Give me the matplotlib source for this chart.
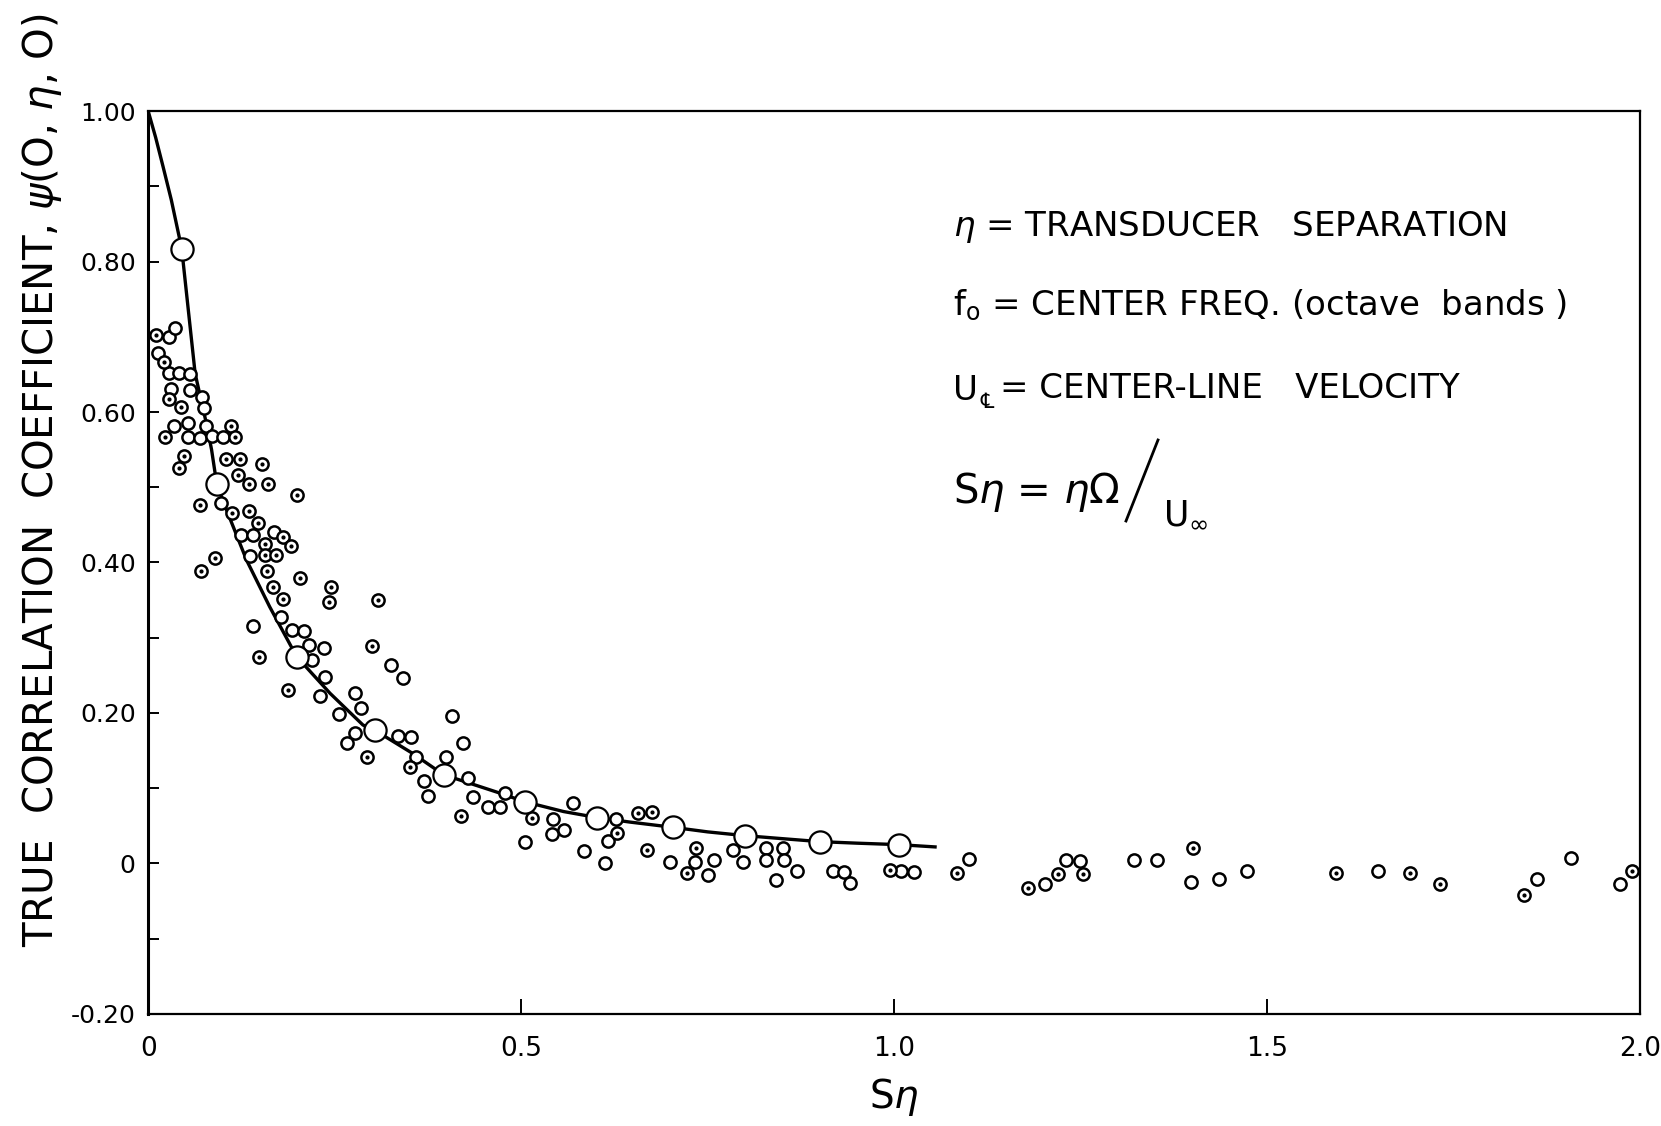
import matplotlib.pyplot as plt
from matplotlib.lines import Line2D

# faired correlation curve through the octave-band averages
fit_s = [0.000, 0.010, 0.020, 0.031, 0.045, 0.063, 0.078, 0.085, 0.092, 0.105,
         0.132, 0.163, 0.199, 0.244, 0.288, 0.304, 0.355, 0.396, 0.467, 0.505,
         0.557, 0.602, 0.646, 0.704, 0.750, 0.800, 0.850, 0.901, 0.950, 1.007, 1.055]
fit_r = [1.000, 0.965, 0.926, 0.882, 0.817, 0.651, 0.585, 0.550, 0.504, 0.470,
         0.403, 0.341, 0.275, 0.226, 0.184, 0.177, 0.146, 0.118, 0.095, 0.082,
         0.069, 0.061, 0.055, 0.048, 0.042, 0.037, 0.033, 0.029, 0.027, 0.025, 0.022]

# large open circles on the curve
mark_s = [0.045, 0.092, 0.199, 0.304, 0.396, 0.505, 0.602, 0.704, 0.800, 0.901, 1.007]
mark_r = [0.817, 0.504, 0.275, 0.177, 0.118, 0.082, 0.061, 0.048, 0.037, 0.029, 0.025]

# measured points, plain open circles
open_s = [0.028, 0.036, 0.013, 0.028, 0.041, 0.056, 0.031, 0.056, 0.072, 0.075,
          0.035, 0.054, 0.077, 0.053, 0.069, 0.086, 0.101, 0.097,
          0.124, 0.141, 0.169, 0.136, 0.178, 0.141, 0.193, 0.209, 0.215, 0.236,
          0.220, 0.237, 0.230,
          0.326, 0.341, 0.277,
          0.286, 0.256, 0.408, 0.277, 0.267, 0.335, 0.352, 0.422, 0.359, 0.399,
          0.370, 0.375, 0.429, 0.436, 0.478, 0.455, 0.472, 0.505,
          0.569, 0.543, 0.557, 0.541, 0.627, 0.617, 0.584, 0.612, 0.700, 0.733,
          0.758, 0.751, 0.784, 0.798, 0.828, 0.828, 0.851, 0.852, 0.842, 0.870,
          0.918, 0.933, 0.941, 1.009, 1.027,
          1.101, 1.203, 1.230, 1.249, 1.322, 1.352, 1.398, 1.436, 1.473, 1.649,
          1.862, 1.908, 1.973]
open_r = [0.700, 0.711, 0.679, 0.652, 0.652, 0.651, 0.630, 0.629, 0.620, 0.605,
          0.581, 0.585, 0.581, 0.567, 0.566, 0.568, 0.567, 0.479,
          0.437, 0.437, 0.441, 0.408, 0.328, 0.315, 0.310, 0.309, 0.290, 0.286,
          0.270, 0.248, 0.222,
          0.264, 0.247, 0.226,
          0.206, 0.199, 0.196, 0.173, 0.160, 0.169, 0.168, 0.160, 0.141, 0.141,
          0.109, 0.090, 0.113, 0.089, 0.093, 0.075, 0.075, 0.029,
          0.080, 0.059, 0.045, 0.039, 0.059, 0.030, 0.016, 0.001, 0.002, 0.002,
          0.004, -0.015, 0.018, 0.002, 0.021, 0.005, 0.020, 0.004, -0.022, -0.010,
          -0.010, -0.011, -0.026, -0.010, -0.011,
          0.006, -0.027, 0.004, 0.003, 0.004, 0.004, -0.025, -0.021, -0.010, -0.010,
          -0.021, 0.007, -0.027]

# measured points, circles with a centre dot
dot_s = [0.011, 0.021, 0.028, 0.044, 0.022, 0.111, 0.117, 0.048, 0.041, 0.104,
         0.123, 0.153, 0.120, 0.135, 0.161, 0.199, 0.069,
         0.113, 0.135, 0.147, 0.181, 0.191, 0.157, 0.157, 0.172, 0.090, 0.071,
         0.159, 0.203, 0.167, 0.245, 0.242, 0.181, 0.148, 0.188,
         0.308, 0.300,
         0.293, 0.351, 0.419, 0.515,
         0.628, 0.657, 0.676, 0.669, 0.734, 0.722, 0.994, 1.084,
         1.180, 1.220, 1.254, 1.401, 1.592, 1.692, 1.732, 1.844, 1.990]
dot_r = [0.702, 0.666, 0.617, 0.606, 0.567, 0.582, 0.567, 0.542, 0.525, 0.538,
         0.537, 0.531, 0.516, 0.504, 0.504, 0.490, 0.476,
         0.466, 0.469, 0.453, 0.434, 0.422, 0.425, 0.410, 0.410, 0.406, 0.389,
         0.389, 0.380, 0.368, 0.367, 0.348, 0.351, 0.275, 0.231,
         0.350, 0.289,
         0.142, 0.128, 0.063, 0.060,
         0.040, 0.067, 0.069, 0.018, 0.020, -0.013, -0.009, -0.012,
         -0.032, -0.014, -0.014, 0.021, -0.013, -0.013, -0.027, -0.042, -0.010]

x_ticks = [0, 0.5, 1.0, 1.5, 2.0]
x_labels = ["0", "0.5", "1.0", "1.5", "2.0"]
y_ticks = [-0.2, 0, 0.2, 0.4, 0.6, 0.8, 1.0]
y_labels = ["-0.20", "0", "0.20", "0.40", "0.60", "0.80", "1.00"]

plt.rcParams['font.family'] = ['DejaVu Sans']
fig = plt.figure(figsize=(16.61, 11.26), dpi=100)
ax = fig.add_axes([0.0892, 0.0995, 0.8981, 0.8019])

ax.plot(fit_s, fit_r, color="black", lw=2.4, zorder=2)
ax.plot(open_s, open_r, "o", ms=8.8, mfc="white", mec="black", mew=1.8, zorder=3)
ax.plot(dot_s, dot_r, "o", ms=8.8, mfc="white", mec="black", mew=1.8, zorder=3)
ax.plot(dot_s, dot_r, "o", ms=2.0, color="black", zorder=4)
ax.plot(mark_s, mark_r, "o", ms=16, mfc="white", mec="black", mew=1.6, zorder=5)

ax.set_xlim(0, 2.0)
ax.set_ylim(-0.2, 1.0)
ax.set_xticks(x_ticks)
ax.set_xticklabels(x_labels, fontsize=19)
ax.set_yticks(y_ticks)
ax.set_yticklabels(y_labels, fontsize=18)
ax.set_yticks([-0.1, 0.1, 0.3, 0.5, 0.7, 0.9], minor=True)
ax.tick_params(axis="x", direction="in", length=11, width=1.4, pad=16)
ax.tick_params(axis="y", which="both", direction="in", length=8, width=1.4, pad=9)
for side in ["top", "right", "bottom"]:
    ax.spines[side].set_linewidth(1.6)
ax.spines["left"].set_linewidth(2.2)

ax.set_xlabel(r"S$\eta$", fontsize=28, labelpad=10)
fig.text(0.025, 0.574, r"TRUE  CORRELATION  COEFFICIENT, $\psi$(O, $\eta$, O)",
         rotation=90, ha="center", va="center", fontsize=29)

# definitions block
def px(x, y):
    return x / 1661, 1 - y / 1126

fs = 24.5
fig.text(*px(953, 227), r"$\eta$ = TRANSDUCER   SEPARATION", fontsize=fs, va="center")
fig.text(*px(953, 305), r"f$_\mathrm{o}$ = CENTER FREQ. (octave  bands )", fontsize=fs, va="center")
fig.text(*px(953, 390), "U", fontsize=fs, va="center")
fig.text(*px(980, 402), "\u2104", fontsize=15, va="center")
fig.text(*px(1000, 388), "= CENTER-LINE   VELOCITY", fontsize=fs, va="center")
fig.text(*px(953, 492), r"S$\eta$ = $\eta\Omega$", fontsize=29, va="center")
(x0, y0), (x1, y1) = px(1126, 521), px(1158, 440)
fig.add_artist(Line2D([x0, x1], [y0, y1], transform=fig.transFigure,
                      color="black", lw=2.0))
fig.text(*px(1163, 514), r"U$_\infty$", fontsize=25, va="center")

fig.savefig("out.png", dpi=100)
